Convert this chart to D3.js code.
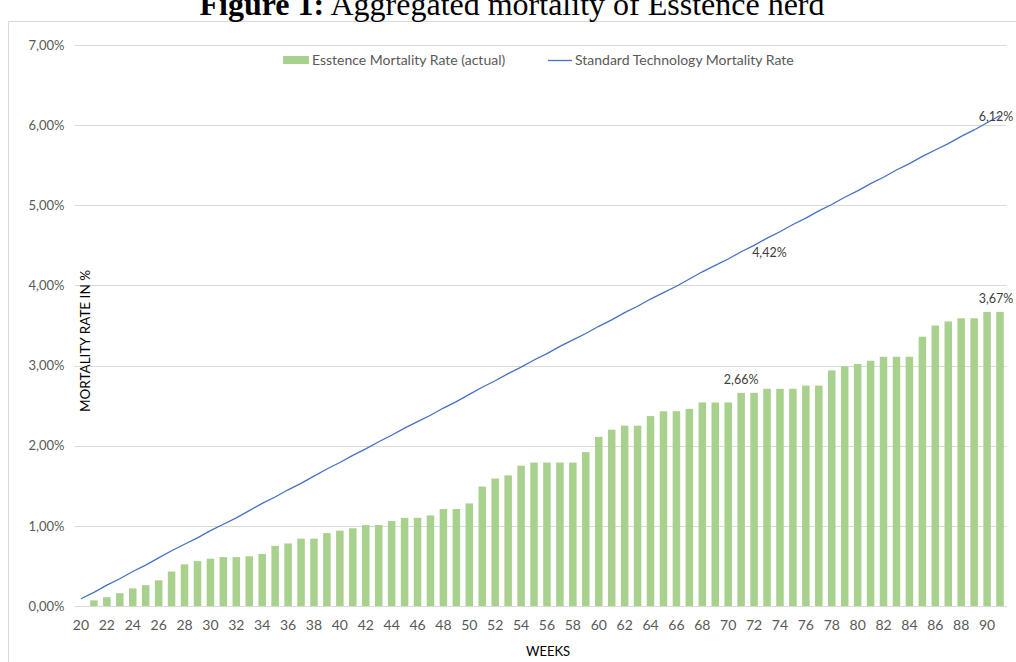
<!DOCTYPE html>
<html>
<head>
<meta charset="utf-8">
<script src="https://cdn.jsdelivr.net/npm/d3@7"></script>
<style>
  body { margin: 0; background: #fff; }
  svg { display: block; }
</style>
</head>
<body>
<div id="chart"></div>
<script>
// weeks 20..91
const weeks = d3.range(20, 92);

// Esstence Mortality Rate (actual), % — week 20 has no bar
const esstenceRate = [
  0.00, 0.07, 0.11, 0.16, 0.22, 0.26, 0.32, 0.43, 0.52, 0.56,
  0.59, 0.61, 0.61, 0.62, 0.65, 0.75, 0.78, 0.84, 0.84, 0.91,
  0.94, 0.97, 1.01, 1.01, 1.06, 1.10, 1.10, 1.13, 1.21, 1.21,
  1.28, 1.49, 1.59, 1.63, 1.75, 1.79, 1.79, 1.79, 1.79, 1.92,
  2.11, 2.20, 2.25, 2.25, 2.37, 2.43, 2.43, 2.46, 2.54, 2.54,
  2.54, 2.66, 2.66, 2.71, 2.71, 2.71, 2.75, 2.75, 2.94, 2.99,
  3.02, 3.06, 3.11, 3.11, 3.11, 3.36, 3.50, 3.55, 3.59, 3.59,
  3.67, 3.67
];

// Standard Technology Mortality Rate, %
const standardRate = [
  0.09, 0.17, 0.26, 0.34, 0.43, 0.51, 0.60, 0.69, 0.77, 0.85,
  0.94, 1.02, 1.10, 1.19, 1.28, 1.36, 1.45, 1.53, 1.62, 1.71,
  1.79, 1.88, 1.96, 2.05, 2.13, 2.22, 2.30, 2.38, 2.47, 2.55,
  2.64, 2.73, 2.81, 2.90, 2.98, 3.07, 3.15, 3.24, 3.32, 3.40,
  3.49, 3.57, 3.66, 3.74, 3.83, 3.91, 3.99, 4.08, 4.17, 4.25,
  4.33, 4.42, 4.50, 4.59, 4.67, 4.76, 4.84, 4.93, 5.01, 5.10,
  5.18, 5.27, 5.35, 5.44, 5.52, 5.61, 5.69, 5.77, 5.86, 5.94,
  6.03, 6.12
];

const yTicks = [0, 1, 2, 3, 4, 5, 6, 7];
const xTickWeeks = weeks.filter(w => w % 2 === 0);

// weeks that carry a data label
const barLabels = [71, 91];
const lineLabels = [71, 91];

const width = 1016, height = 662;
const margin = { top: 45, right: 9.5, bottom: 56, left: 74.5 };

const fmt = v => v.toFixed(2).replace(".", ",") + "%";
const font = "Lato, 'Open Sans', sans-serif";

const svg = d3.select("#chart").append("svg")
  .attr("width", width)
  .attr("height", height)
  .attr("viewBox", [0, 0, width, height]);

// chart frame
svg.append("rect")
  .attr("x", 8.5).attr("y", 21.5)
  .attr("width", 1030).attr("height", 700)
  .attr("fill", "none")
  .attr("stroke", "#d9d9d9");

// title (cut off at top like the figure)
const title = svg.append("text")
  .attr("x", 512)
  .attr("y", 15)
  .attr("text-anchor", "middle")
  .attr("font-family", "'Liberation Serif', 'Times New Roman', serif")
  .attr("font-size", 32)
  .attr("fill", "#000");
title.append("tspan").attr("font-weight", "bold").text("Figure 1:");
title.append("tspan").text(" Aggregated mortality of Esstence herd");

const xScale = d3.scaleBand()
  .domain(weeks)
  .range([margin.left, width - margin.right])
  .paddingInner(0.42)
  .paddingOuter(0.21);

const yScale = d3.scaleLinear()
  .domain([0, 7])
  .range([height - margin.bottom, margin.top]);

const cx = w => xScale(w) + xScale.bandwidth() / 2;

// gridlines
svg.append("g")
  .selectAll("line")
  .data(yTicks)
  .join("line")
  .attr("x1", margin.left)
  .attr("x2", width - margin.right)
  .attr("y1", d => Math.round(yScale(d)) + 0.5)
  .attr("y2", d => Math.round(yScale(d)) + 0.5)
  .attr("stroke", "#d9d9d9")
  .attr("stroke-width", 1);

// y axis labels
const yAxis = g => g
  .attr("transform", `translate(${margin.left},0)`)
  .call(d3.axisLeft(yScale).tickValues(yTicks).tickSize(0).tickPadding(10).tickFormat(fmt))
  .call(g => g.select(".domain").remove())
  .selectAll("text")
  .attr("font-family", font)
  .attr("font-size", 13)
  .attr("fill", "#595959");
svg.append("g").call(yAxis);

// bars
svg.append("g")
  .selectAll("rect")
  .data(weeks.map((w, i) => ({ week: w, value: esstenceRate[i] })))
  .join("rect")
  .attr("x", d => xScale(d.week))
  .attr("y", d => yScale(d.value))
  .attr("width", xScale.bandwidth())
  .attr("height", d => yScale(0) - yScale(d.value))
  .attr("fill", "#a9d18e");

// x axis
const xAxis = g => g
  .attr("transform", `translate(0,${yScale(0)})`)
  .call(d3.axisBottom(xScale).tickValues(xTickWeeks).tickSize(0).tickPadding(14))
  .call(g => g.select(".domain").attr("stroke", "#d9d9d9"))
  .selectAll("text")
  .attr("font-family", font)
  .attr("font-size", 14)
  .attr("fill", "#595959");
svg.append("g").call(xAxis);

// standard technology line
const line = d3.line()
  .x((d, i) => cx(weeks[i]))
  .y(d => yScale(d));
svg.append("path")
  .datum(standardRate)
  .attr("d", line)
  .attr("fill", "none")
  .attr("stroke", "#4472c4")
  .attr("stroke-width", 1.3);

// data labels (kept inside the right edge)
const addLabel = (x, y, anchor, txt) => svg.append("text")
  .attr("x", x)
  .attr("y", y)
  .attr("text-anchor", anchor)
  .attr("font-family", font)
  .attr("font-size", 12.5)
  .attr("fill", "#404040")
  .text(txt);

barLabels.forEach(w => {
  const v = esstenceRate[weeks.indexOf(w)];
  addLabel(Math.min(cx(w), width - 20), yScale(v) - 9, "middle", fmt(v));
});
const v71 = standardRate[weeks.indexOf(lineLabels[0])];
addLabel(cx(lineLabels[0]) + 11, yScale(v71) + 5, "start", fmt(v71));
const v91 = standardRate[weeks.indexOf(lineLabels[1])];
addLabel(Math.min(cx(lineLabels[1]) - 3, width - 20), yScale(v91) + 5, "middle", fmt(v91));

// axis titles
svg.append("text")
  .attr("transform", `translate(90,341) rotate(-90)`)
  .attr("text-anchor", "middle")
  .attr("font-family", font)
  .attr("font-size", 13)
  .attr("fill", "#000")
  .attr("textLength", 142)
  .attr("lengthAdjust", "spacingAndGlyphs")
  .text("MORTALITY RATE IN %");

svg.append("text")
  .attr("x", 548)
  .attr("y", 656)
  .attr("text-anchor", "middle")
  .attr("font-family", font)
  .attr("font-size", 13)
  .attr("fill", "#000")
  .text("WEEKS");

// legend
const legend = svg.append("g")
  .attr("font-family", font)
  .attr("font-size", 14)
  .attr("fill", "#595959");
legend.append("rect")
  .attr("x", 283).attr("y", 56)
  .attr("width", 26).attr("height", 8)
  .attr("fill", "#a9d18e");
legend.append("text")
  .attr("x", 312).attr("y", 65)
  .text("Esstence Mortality Rate (actual)");
legend.append("line")
  .attr("x1", 548).attr("x2", 572)
  .attr("y1", 60.5).attr("y2", 60.5)
  .attr("stroke", "#4472c4")
  .attr("stroke-width", 1.3);
legend.append("text")
  .attr("x", 575).attr("y", 65)
  .text("Standard Technology Mortality Rate");
</script>
</body>
</html>
